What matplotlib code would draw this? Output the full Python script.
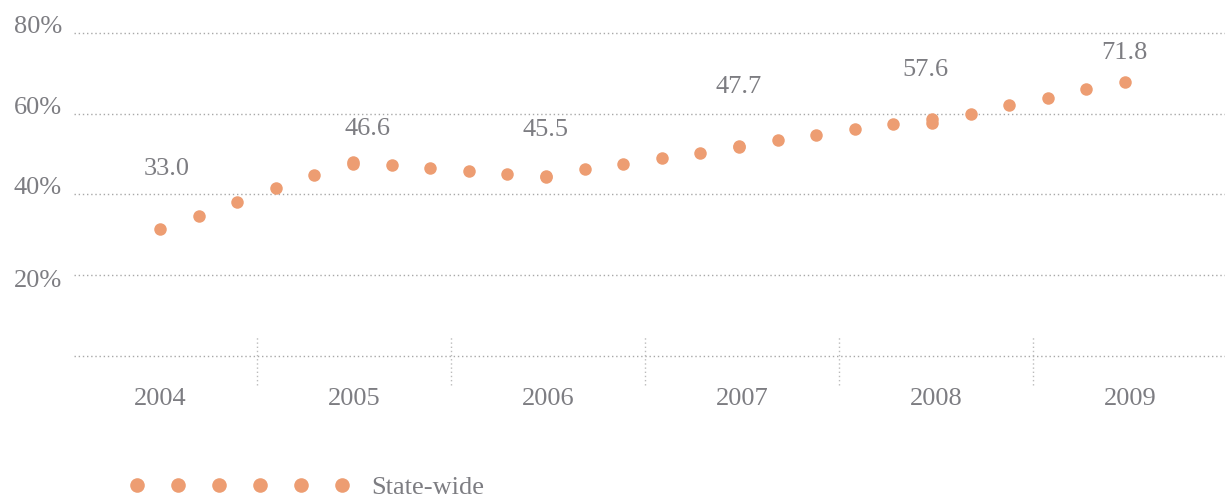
import numpy as np
import matplotlib.pyplot as plt
from matplotlib.lines import Line2D

plt.rcParams['font.family'] = ['Liberation Serif', 'DejaVu Serif']

years = [2004, 2005, 2006, 2007, 2008, 2009]
state_wide = [31.4, 34.7, 38.1, 41.6, 44.8, 48.0, 47.3, 46.6, 45.9, 45.1,
              44.6, 46.2, 47.5, 48.9, 50.3, 52.0, 53.5, 54.8, 56.2, 57.5,
              58.6, 60.0, 62.0, 63.9, 66.0, 67.9]
annual_idx = [5, 10, 15, 20]
annual_vals = [47.6, 44.3, 51.6, 57.7]
label_idx = [0, 5, 10, 15, 20, 25]
label_text = ['33.0', '46.6', '45.5', '47.7', '57.6', '71.8']
y_ticks = [20, 40, 60, 80]

orange = '#ED9D72'
gray = '#7d7d82'
fs = 19

fig = plt.figure(figsize=(12.25, 4.95), dpi=100)
ax = fig.add_axes([74 / 1225, 139 / 495, 1151 / 1225, 323.3 / 495])
ax.set_xlim(2003.557, 2009.49)
ax.set_ylim(0, 80)
ax.axis('off')

# dotted horizontal grid
for v in [0] + y_ticks:
    ax.axhline(v, color='#a8a8a8', lw=1, ls=(0, (1, 2)), clip_on=False)

# year separators
seps = [y + 0.5 for y in years[:-1]]
ax.vlines(seps, -7.2, 4.7, colors='#bbbbbb', lw=1, linestyles=(0, (1, 2)),
          clip_on=False)

for y in years:
    ax.text(y, -12.1, str(y), ha='center', va='baseline', fontsize=fs,
            color=gray, clip_on=False)

for v in y_ticks:
    dy = -8.6 if v == 20 else 0
    ax.annotate(f'{v}%', (0, v), xycoords=ax.get_yaxis_transform(),
                xytext=(-8.6, dy), textcoords='offset points',
                ha='right', va='baseline', fontsize=fs, color=gray)

x = 2004 + np.arange(len(state_wide)) * 0.199
ax.plot(x, state_wide, 'o', ms=9, color=orange, mec='none', clip_on=False)
ax.plot(x[annual_idx], annual_vals, 'o', ms=9, color=orange, mec='none',
        clip_on=False)

# value labels, offsets in px from the dot
offsets = [(6.5, 54), (15, 27), (-1, 39.7), (-0.5, 53), (-7, 43), (-1, 22.7)]
for i, t, (dx, dy) in zip(label_idx, label_text, offsets):
    ax.annotate(t, (x[i], state_wide[i]), xytext=(dx * 0.72, dy * 0.72),
                textcoords='offset points', ha='center', va='baseline',
                fontsize=fs, color=gray)

handle = Line2D([], [], ls='none', marker='o', ms=10.5, color=orange, mec='none')
fig.legend([handle], ['State-wide'], loc='center left',
           bbox_to_anchor=(129 / 1225, 8 / 495), bbox_transform=fig.transFigure,
           numpoints=6, handlelength=8.36, handletextpad=0.83, frameon=False,
           borderpad=0, borderaxespad=0, prop={'size': fs}, labelcolor=gray)

fig.savefig('out.png', dpi=100)
